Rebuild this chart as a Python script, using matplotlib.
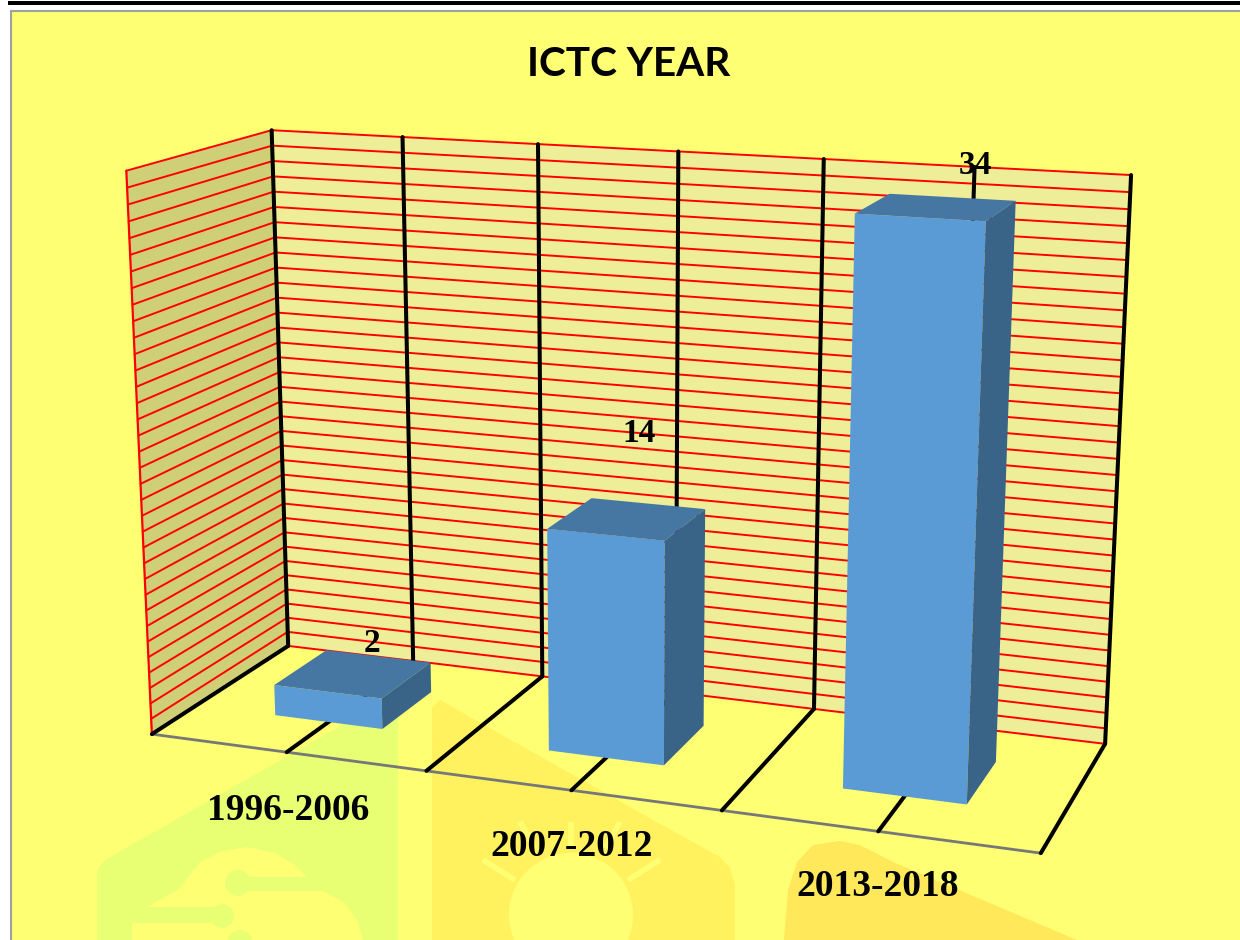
import numpy as np
import matplotlib
matplotlib.use("Agg")
import matplotlib.pyplot as plt
from matplotlib.patches import Polygon, Rectangle, Circle

# ---- data ----
title = "ICTC YEAR"
categories = ["1996-2006", "2007-2012", "2013-2018"]
values = [2, 14, 34]
value_max = 35

# ---- camera for the 3D look: model (category, value, depth) -> image pixel ----
model_pts = np.array([[0, 0, 0], [3, 0, 0], [3, 0, 1], [0, 0, 1],
                      [0, 1, 1], [3, 1, 1], [0, 1, 0]], float)
image_pts = np.array([[152, 734], [1041, 853], [1105, 744], [288, 646],
                      [272, 130], [1131, 175], [126, 171]], float)


def fit_camera(m, p):
    rows, rhs = [], []
    for (x, y, z), (u, v) in zip(m, p):
        rows.append([x, y, z, 1, 0, 0, 0, 0, -u * x, -u * y, -u * z])
        rhs.append(u)
        rows.append([0, 0, 0, 0, x, y, z, 1, -v * x, -v * y, -v * z])
        rhs.append(v)
    sol = np.linalg.lstsq(np.array(rows), np.array(rhs), rcond=None)[0]
    return np.append(sol, 1).reshape(3, 4)


CAM = fit_camera(model_pts, image_pts)


def proj(x, val, z):
    """category position, value, depth -> pixel."""
    h = CAM @ np.array([x, val / value_max, z, 1.0])
    return h[:2] / h[2]


BG = "#FFFF73"
WALL_BACK = "#EEEE99"
WALL_LEFT = "#CFCF77"
RED = "#FF0000"
FRONT, TOP, SIDE = "#5B9BD5", "#4676A2", "#3A6487"
WM_GREEN, WM_GOLD, WM_ORANGE = "#E8FF73", "#FFF25E", "#FFE85A"
BAR_HALF = 0.20
BAR_SHIFT = 0.0
BAR_Z = (0.31, 0.71)

fig = plt.figure(figsize=(12.4, 9.4), dpi=100, facecolor="white")
ax = fig.add_axes([0, 0, 1, 1])
ax.set_xlim(0, 1240)
ax.set_ylim(940, 0)
ax.axis("off")

# page frame
ax.add_patch(Rectangle((11, 11), 1240, 940, fc=BG, ec="#A0A0A0", lw=1.5, zorder=0))
ax.add_patch(Rectangle((8, 0.5), 1240, 4.5, fc="black", ec="none", zorder=0))

# faint watermark shapes on the page
ax.add_patch(Polygon([(97, 940), (97, 870), (105, 860), (335, 729), (398, 693), (398, 940)],
                     fc=WM_GREEN, ec="none", zorder=1))
ax.add_patch(Polygon([(147, 907), (179, 889), (200, 862), (222, 851), (247, 847), (275, 853),
                      (295, 865), (307, 877), (322, 891), (345, 903), (358, 922), (363, 940),
                      (132, 940), (132, 925)], fc=BG, ec="none", zorder=1.1))
ax.add_patch(Rectangle((130, 907), 92, 16, fc=WM_GREEN, ec="none", zorder=1.2))
ax.add_patch(Circle((222, 916), 12, fc=WM_GREEN, ec="none", zorder=1.2))
ax.add_patch(Rectangle((238, 877), 92, 13.5, fc=WM_GREEN, ec="none", zorder=1.2))
ax.add_patch(Circle((238, 883), 13, fc=WM_GREEN, ec="none", zorder=1.2))
ax.add_patch(Circle((240, 942), 12, fc=WM_GREEN, ec="none", zorder=1.2))

ax.add_patch(Polygon([(432, 940), (432, 708), (440, 700), (653, 820), (720, 857), (730, 868),
                      (735, 885), (735, 940)], fc=WM_GOLD, ec="none", zorder=1))
ax.add_patch(Circle((571, 915), 62, fc=BG, ec="none", zorder=1.1))
for p, q in [((483, 860), (515, 880)), ((660, 860), (628, 880)),
             ((520, 822), (535, 848)), ((571, 822), (571, 848)), ((620, 822), (605, 848))]:
    ax.plot([p[0], q[0]], [p[1], q[1]], color=BG, lw=4, solid_capstyle="butt", zorder=1.1)

ax.add_patch(Polygon([(784, 940), (788, 890), (797, 862), (813, 845), (840, 841), (860, 845),
                      (893, 862), (1077, 940)], fc=WM_ORANGE, ec="none", zorder=1))

# walls
xs = np.arange(0, 3.01, 0.5)
ax.add_patch(Polygon([proj(0, 0, 1), proj(3, 0, 1), proj(3, value_max, 1), proj(0, value_max, 1)],
                     fc=WALL_BACK, ec="none", zorder=2))
ax.add_patch(Polygon([proj(0, 0, 0), proj(0, 0, 1), proj(0, value_max, 1), proj(0, value_max, 0)],
                     fc=WALL_LEFT, ec="none", zorder=2))


def seg(a, b, **kw):
    pts = np.array([a, b])
    ax.plot(pts[:, 0], pts[:, 1], solid_capstyle="round", **kw)


# horizontal gridlines
for v in range(0, value_max + 1):
    seg(proj(0, v, 0), proj(0, v, 1), color=RED, lw=1.4, zorder=3)
    seg(proj(0, v, 1), proj(3, v, 1), color=RED, lw=1.4, zorder=3)
seg(proj(0, 0, 0), proj(0, value_max, 0), color=RED, lw=1.6, zorder=3)

# vertical and floor lines
for x in xs:
    seg(proj(x, 0, 1), proj(x, value_max, 1), color="black", lw=2.9, zorder=3.5)
    seg(proj(x, 0, 0), proj(x, 0, 1), color="black", lw=2.9, zorder=3.5)
seg(proj(0, 0, 0), proj(3, 0, 0), color="#777777", lw=2.0, zorder=3.4)

# bars
for i, val in enumerate(values):
    cx = i + 0.5 + BAR_SHIFT
    x0, x1 = cx - BAR_HALF, cx + BAR_HALF
    z0, z1 = BAR_Z
    ax.add_patch(Polygon([proj(x0, 0, z0), proj(x1, 0, z0), proj(x1, val, z0), proj(x0, val, z0)],
                         fc=FRONT, ec="none", zorder=5))
    ax.add_patch(Polygon([proj(x0, val, z0), proj(x1, val, z0), proj(x1, val, z1), proj(x0, val, z1)],
                         fc=TOP, ec="none", zorder=5))
    ax.add_patch(Polygon([proj(x1, 0, z0), proj(x1, 0, z1), proj(x1, val, z1), proj(x1, val, z0)],
                         fc=SIDE, ec="none", zorder=5))

# text
serif = "Liberation Serif"
ax.text(629, 64, title, ha="center", va="center", fontsize=29.2, fontweight="bold",
        family="Lato", zorder=7)
label_pos = [(288, 810), (572, 847), (878, 887)]
for name, (tx, ty) in zip(categories, label_pos):
    ax.text(tx, ty, name, ha="center", va="center", fontsize=27, fontweight="bold",
            family=serif, zorder=7)
value_pos = [(372, 643), (639, 434), (975, 166)]
for val, (tx, ty) in zip(values, value_pos):
    ax.text(tx, ty, str(val), ha="center", va="center", fontsize=24, fontweight="bold",
            family=serif, zorder=7)

fig.savefig("out.png", dpi=100)
